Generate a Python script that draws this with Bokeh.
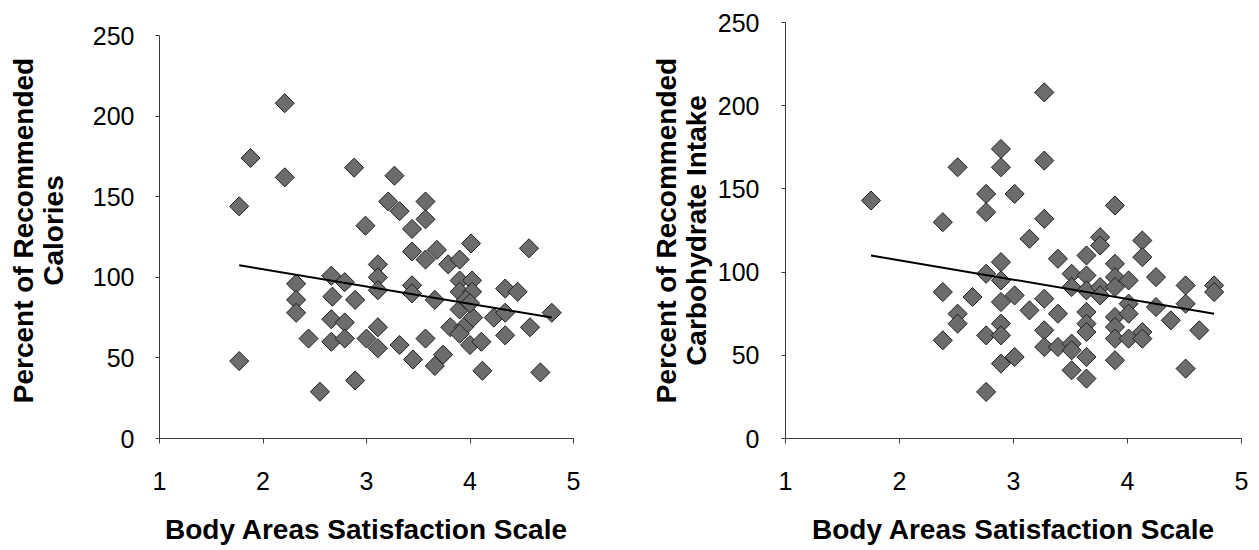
import numpy as np
from bokeh.plotting import figure
from bokeh.layouts import row
from bokeh.models import Range1d, FixedTicker
from bokeh.embed import file_html
from bokeh.resources import INLINE

# ---------------- data ----------------
x_ticks = [1, 2, 3, 4, 5]
y_ticks = [0, 50, 100, 150, 200, 250]

cal_x = [1.77, 1.77, 1.88, 2.21, 2.21, 2.32, 2.32, 2.32, 2.44, 2.55,
         2.66, 2.67, 2.66, 2.66, 2.79, 2.79, 2.79, 2.89, 2.88, 2.89,
         2.99, 3.00, 3.11, 3.11, 3.11, 3.11, 3.11, 3.21, 3.27, 3.32,
         3.32, 3.44, 3.44, 3.44, 3.44, 3.45, 3.57, 3.57, 3.57, 3.57,
         3.66, 3.66, 3.68, 3.74, 3.79, 3.81, 3.90, 3.90, 3.90, 3.90,
         3.94, 3.90, 4.01, 4.02, 4.02, 4.03, 4.00, 4.11, 4.12, 4.23,
         4.34, 4.34, 4.34, 4.46, 4.57, 4.58, 4.68, 4.79, 3.96, 4.00]
cal_y = [144, 48, 174, 208, 162, 96, 86, 78, 62, 29,
         101, 88, 74, 60, 97, 72, 62, 86, 168, 36,
         132, 62, 108, 100, 92, 69, 56, 147, 163, 141,
         58, 130, 116, 95, 90, 49, 147, 136, 111, 62,
         86, 45, 117, 52, 108, 69, 111, 98, 91, 80,
         69, 65, 121, 98, 91, 75, 58, 60, 42, 75,
         93, 78, 64, 91, 118, 69, 41, 78, 86, 84]

carb_x = [1.75, 2.38, 2.38, 2.38, 2.51, 2.51, 2.51, 2.64, 2.76, 2.76,
          2.76, 2.76, 2.76, 2.89, 2.89, 2.89, 2.89, 2.89, 2.89, 2.89,
          2.89, 3.01, 3.01, 3.01, 3.14, 3.14, 3.27, 3.27, 3.27, 3.27,
          3.27, 3.27, 3.39, 3.39, 3.39, 3.51, 3.51, 3.51, 3.51, 3.51,
          3.64, 3.64, 3.64, 3.64, 3.64, 3.64, 3.64, 3.76, 3.76, 3.76,
          3.64, 3.76, 3.89, 3.89, 3.89, 3.89, 3.89, 3.89, 3.89, 3.89,
          4.01, 4.01, 4.01, 4.01, 4.13, 4.13, 4.13, 4.13, 4.25, 4.25,
          4.38, 4.51, 4.51, 4.51, 4.63, 4.76, 4.76]
carb_y = [143, 130, 88, 59, 163, 75, 69, 85, 147, 136,
          99, 62, 28, 174, 163, 106, 95, 82, 69, 62,
          45, 147, 86, 49, 120, 77, 208, 167, 132, 84,
          65, 55, 108, 75, 55, 99, 91, 57, 53, 41,
          110, 98, 89, 76, 69, 64, 49, 121, 116, 91,
          36, 86, 140, 105, 97, 91, 73, 67, 60, 47,
          95, 81, 75, 60, 119, 109, 64, 60, 97, 79,
          71, 92, 81, 42, 65, 92, 88]

cal_trend_x = [1.77, 4.79]
cal_trend_y = [107.5, 75.0]
carb_trend_x = [1.75, 4.76]
carb_trend_y = [110.0, 75.0]

x_title = "Body Areas Satisfaction Scale"
cal_title = "Percent of Recommended\nCalories"
carb_title = "Percent of Recommended\nCarbohydrate Intake"

FONT = "Liberation Sans"
TOP = 22
FRAME_H = 416
BOTTOM = 112


def make_plot(xs, ys, tx, ty, ylabel, frame_w, left, right, y_top_px,
              ylab_standoff, ytick_standoff):
    # y_top_px: pixel height of the 0..250 span inside the frame
    y_end = 250 * FRAME_H / y_top_px
    p = figure(frame_width=frame_w, frame_height=FRAME_H,
               min_border_left=left, min_border_right=right,
               min_border_top=TOP, min_border_bottom=BOTTOM,
               x_range=Range1d(1, 5), y_range=Range1d(0, y_end),
               output_backend="svg", toolbar_location=None,
               background_fill_color="white", border_fill_color="white")
    p.outline_line_color = None
    p.grid.visible = False

    p.scatter(xs, ys, marker="square", size=13.5, angle=np.pi / 4,
              fill_color="#6c6c6c", line_color="#1e1e1e", line_width=1)
    p.line(tx, ty, line_color="black", line_width=2)

    for ax in (p.xaxis[0], p.yaxis[0]):
        ax.axis_line_color = "#3a3a3a"
        ax.axis_line_width = 1
        ax.major_tick_line_color = "#3a3a3a"
        ax.major_tick_in = 0
        ax.minor_tick_line_color = None
        ax.major_label_text_font = FONT
        ax.major_label_text_font_size = "25px"
        ax.major_label_text_color = "black"
        ax.major_label_text_line_height = 1.0
        ax.axis_label_text_font = FONT
        ax.axis_label_text_font_size = "28px"
        ax.axis_label_text_font_style = "bold"
        ax.axis_label_text_color = "black"
        ax.axis_label_text_line_height = 0.97

    p.xaxis.ticker = FixedTicker(ticks=x_ticks)
    p.yaxis.ticker = FixedTicker(ticks=y_ticks)
    p.yaxis.bounds = (0, 250)
    p.xaxis.major_tick_out = 5
    p.yaxis.major_tick_out = 4
    p.xaxis.major_label_standoff = 28
    p.yaxis.major_label_standoff = ytick_standoff
    p.xaxis.axis_label = x_title
    p.yaxis.axis_label = ylabel
    p.xaxis.axis_label_standoff = 21
    p.yaxis.axis_label_standoff = ylab_standoff
    return p


p1 = make_plot(cal_x, cal_y, cal_trend_x, cal_trend_y, cal_title,
               414, 159, 67, 403, 21, 21)
p2 = make_plot(carb_x, carb_y, carb_trend_x, carb_trend_y, carb_title,
               456, 145, 18, 416, 3, 22)

layout = row(p1, p2)
open("out.html", "w").write(file_html(layout, INLINE))
